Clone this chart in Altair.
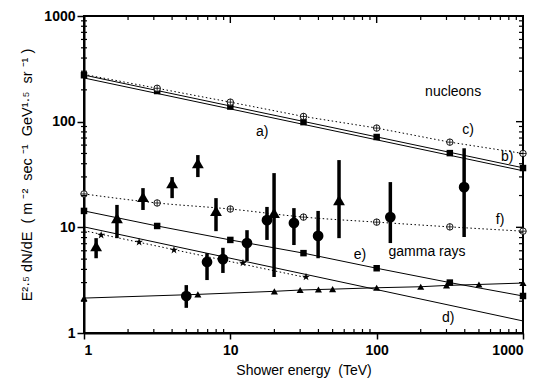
import altair as alt
import pandas as pd

# ---------------- data ----------------
E_half = [1, 3.162, 10, 31.62, 100, 316.2, 1000]
sq_nuc = [275, 195, 139, 99, 71.6, 50.4, 36.4]
circ_c = [280, 207, 153, 112, 87, 64, 50]
line_ab_E = [1, 1000]
line_a_F = [276, 36.6]
line_b_F = [259, 34.3]
circ_f = [20.7, 17, 14.9, 12.5, 11.2, 10.1, 9.2]
sq_e = [14.3, 10.3, 7.6, 5.7, 4.1, 3.0, 2.24]
line_d_E = [1, 1000]
line_d_F = [10.1, 1.3]
star_E = [1.31, 2.38, 4.12, 12.2, 32.9]
star_F = [8.45, 7.26, 6.1, 4.6, 3.39]
star_line_E = [1, 32.9]
star_line_F = [9.3, 3.35]
tri_small_E = [1, 6, 20, 30, 40, 50, 100, 200, 300, 500, 1000]
tri_small_F = [2.14, 2.32, 2.48, 2.55, 2.58, 2.6, 2.68, 2.74, 2.82, 2.88, 2.97]

tri_E = [1.21, 1.68, 2.53, 4.0, 6.0, 7.98, 19.9, 55.3]
tri_F = [6.65, 12.2, 19.4, 26.2, 40.6, 14.3, 13.7, 18.1]
tri_lo = [5.1, 7.9, 14.6, 18.9, 29.9, 9.2, 3.39, 7.9]
tri_hi = [7.9, 16.3, 23.5, 29.9, 48.3, 18.9, 32.6, 43.3]

dot_E = [5.0, 6.93, 8.9, 13.0, 17.8, 27.2, 39.8, 124, 396]
dot_F = [2.24, 4.7, 5.0, 7.1, 11.7, 11.0, 8.3, 12.5, 24.0]
dot_lo = [1.73, 3.17, 3.7, 4.8, 7.6, 6.8, 5.1, 7.1, 8.1]
dot_hi = [2.84, 5.7, 6.4, 9.4, 15.6, 15.2, 14.3, 26.8, 56]

labels = ["a)", "b)", "c)", "d)", "e)", "f)", "nucleons", "gamma rays"]
lab_E = [16.5, 780, 422, 308, 77, 697, 333, 221]
lab_F = [80, 46, 83, 1.39, 5.5, 11.7, 190, 5.8]

major_ticks = [1, 10, 100, 1000]
minor_ticks = [k * 10 ** d for d in range(3) for k in range(2, 10)]
inner_major = [10, 100]

W, H = 439, 317
FONT = "Liberation Sans"

xs = alt.Scale(type="log", domain=[1, 1000], nice=False)
ys = alt.Scale(type="log", domain=[1, 1000], nice=False)
xaxis = alt.Axis(values=major_ticks, format="d", title="Shower energy\u00a0\u00a0(TeV)",
                 tickSize=6, labelPadding=4, titlePadding=6, grid=False)
yaxis = alt.Axis(values=major_ticks, format="d",
                 title="E²·⁵\u00a0dN/dE\u00a0\u00a0(\u00a0m\u00a0⁻²\u00a0\u00a0sec\u00a0⁻¹\u00a0\u00a0GeV¹·⁵\u00a0\u00a0sr\u00a0⁻¹\u00a0)",
                 tickSize=7, labelPadding=2, titlePadding=9, grid=False)

def X(f="E"):
    return alt.X(f"{f}:Q", scale=xs, axis=xaxis)

def Y(f="F"):
    return alt.Y(f"{f}:Q", scale=ys, axis=yaxis)

df = lambda **kw: pd.DataFrame(kw)

layers = []

# nucleon lines a, b
for Fv in (line_a_F, line_b_F):
    layers.append(alt.Chart(df(E=line_ab_E, F=Fv)).mark_line(color="black", strokeWidth=1)
                  .encode(x=X(), y=Y()))
# dotted c
layers.append(alt.Chart(df(E=E_half, F=circ_c)).mark_line(color="black", strokeWidth=1, strokeDash=[1.5, 2.5])
              .encode(x=X(), y=Y()))
# dotted f
layers.append(alt.Chart(df(E=E_half, F=circ_f)).mark_line(color="black", strokeWidth=1, strokeDash=[1.5, 2.5],
                                                          interpolate="monotone")
              .encode(x=X(), y=Y()))
# e line
layers.append(alt.Chart(df(E=E_half, F=sq_e)).mark_line(color="black", strokeWidth=1)
              .encode(x=X(), y=Y()))
# d line
layers.append(alt.Chart(df(E=line_d_E, F=line_d_F)).mark_line(color="black", strokeWidth=1)
              .encode(x=X(), y=Y()))
# star dotted
layers.append(alt.Chart(df(E=star_line_E, F=star_line_F)).mark_line(color="black", strokeWidth=1, strokeDash=[1.5, 2.5])
              .encode(x=X(), y=Y()))
# small triangle line
layers.append(alt.Chart(df(E=tri_small_E, F=tri_small_F)).mark_line(color="black", strokeWidth=1)
              .encode(x=X(), y=Y()))

# squares
for Fv in (sq_nuc, sq_e):
    layers.append(alt.Chart(df(E=E_half, F=Fv)).mark_point(shape="square", filled=True, color="black",
                                                           size=42, opacity=1)
                  .encode(x=X(), y=Y()))

# circle-plus markers (the nucleon one at 1 TeV is hidden under the square)
cross_path = "M-1,0H1M0,-1V1"
for Ev, Fv in ((E_half[1:], circ_c[1:]), (E_half, circ_f)):
    d = df(E=Ev, F=Fv)
    layers.append(alt.Chart(d).mark_point(shape="circle", filled=True, fill="white", stroke="black",
                                          strokeWidth=0.9, size=42, opacity=1)
                  .encode(x=X(), y=Y()))
    layers.append(alt.Chart(d).mark_point(shape=cross_path, filled=False, stroke="black",
                                          strokeWidth=0.8, size=42, opacity=1)
                  .encode(x=X(), y=Y()))
# stars
star_path = ("M0,-1L0.2245,-0.309L0.951,-0.309L0.363,0.118L0.588,0.809L0,0.382"
             "L-0.588,0.809L-0.363,0.118L-0.951,-0.309L-0.2245,-0.309Z")
layers.append(alt.Chart(df(E=star_E, F=star_F)).mark_point(shape=star_path, filled=True, color="black",
                                                           size=70, opacity=1)
              .encode(x=X(), y=Y()))
# small triangles
layers.append(alt.Chart(df(E=tri_small_E, F=tri_small_F)).mark_point(shape="triangle-up", filled=True,
                                                                      color="black", size=50, opacity=1)
              .encode(x=X(), y=Y()))

# error bars
layers.append(alt.Chart(df(E=tri_E, lo=tri_lo, hi=tri_hi)).mark_rule(color="black", strokeWidth=3.5)
              .encode(x=X(), y=Y("lo"), y2="hi:Q"))
layers.append(alt.Chart(df(E=dot_E, lo=dot_lo, hi=dot_hi)).mark_rule(color="black", strokeWidth=3.5)
              .encode(x=X(), y=Y("lo"), y2="hi:Q"))
# big markers
layers.append(alt.Chart(df(E=tri_E, F=tri_F)).mark_point(shape="triangle-up", filled=True, color="black",
                                                         size=140, opacity=1)
              .encode(x=X(), y=Y()))
layers.append(alt.Chart(df(E=dot_E, F=dot_F)).mark_point(shape="circle", filled=True, color="black",
                                                         size=115, opacity=1)
              .encode(x=X(), y=Y()))

# labels
layers.append(alt.Chart(df(E=lab_E, F=lab_F, t=labels)).mark_text(font=FONT, fontSize=14, color="black",
                                                                  align="center", baseline="middle")
              .encode(x=X(), y=Y(), text="t:N"))

# minor / inner ticks
tk = lambda vals: df(E=vals, F=vals)
layers.append(alt.Chart(tk(minor_ticks)).mark_rule(color="black", strokeWidth=1.2)
              .encode(x=X(), y=alt.value(H), y2=alt.value(H - 4)))
layers.append(alt.Chart(tk(minor_ticks)).mark_rule(color="black", strokeWidth=1.2)
              .encode(x=X(), y=alt.value(0), y2=alt.value(4)))
layers.append(alt.Chart(tk(inner_major)).mark_rule(color="black", strokeWidth=1.4)
              .encode(x=X(), y=alt.value(0), y2=alt.value(7)))
layers.append(alt.Chart(tk(minor_ticks)).mark_rule(color="black", strokeWidth=1.2)
              .encode(y=Y(), x=alt.value(-3), x2=alt.value(3)))
layers.append(alt.Chart(tk(minor_ticks)).mark_rule(color="black", strokeWidth=1.2)
              .encode(y=Y(), x=alt.value(W), x2=alt.value(W - 4)))
layers.append(alt.Chart(tk(inner_major)).mark_rule(color="black", strokeWidth=1.4)
              .encode(y=Y(), x=alt.value(W), x2=alt.value(W - 7)))

chart = alt.layer(*layers).properties(
    width=W, height=H,
    autosize=alt.AutoSizeParams(type="none"),
    padding={"left": 84, "top": 16, "right": 32, "bottom": 50},
    background="white",
).configure_view(stroke="black", strokeWidth=2).configure_axis(
    domainColor="black", domainWidth=2, tickColor="black", tickWidth=1.5,
    labelFont=FONT, labelFontSize=14, labelFontWeight="bold", labelColor="black",
    titleFont=FONT, titleFontSize=14, titleFontWeight="normal", titleColor="black",
).configure_axisY(titleFontSize=14.5)

chart.save("out.html", embed_options={"renderer": "svg", "actions": False})
